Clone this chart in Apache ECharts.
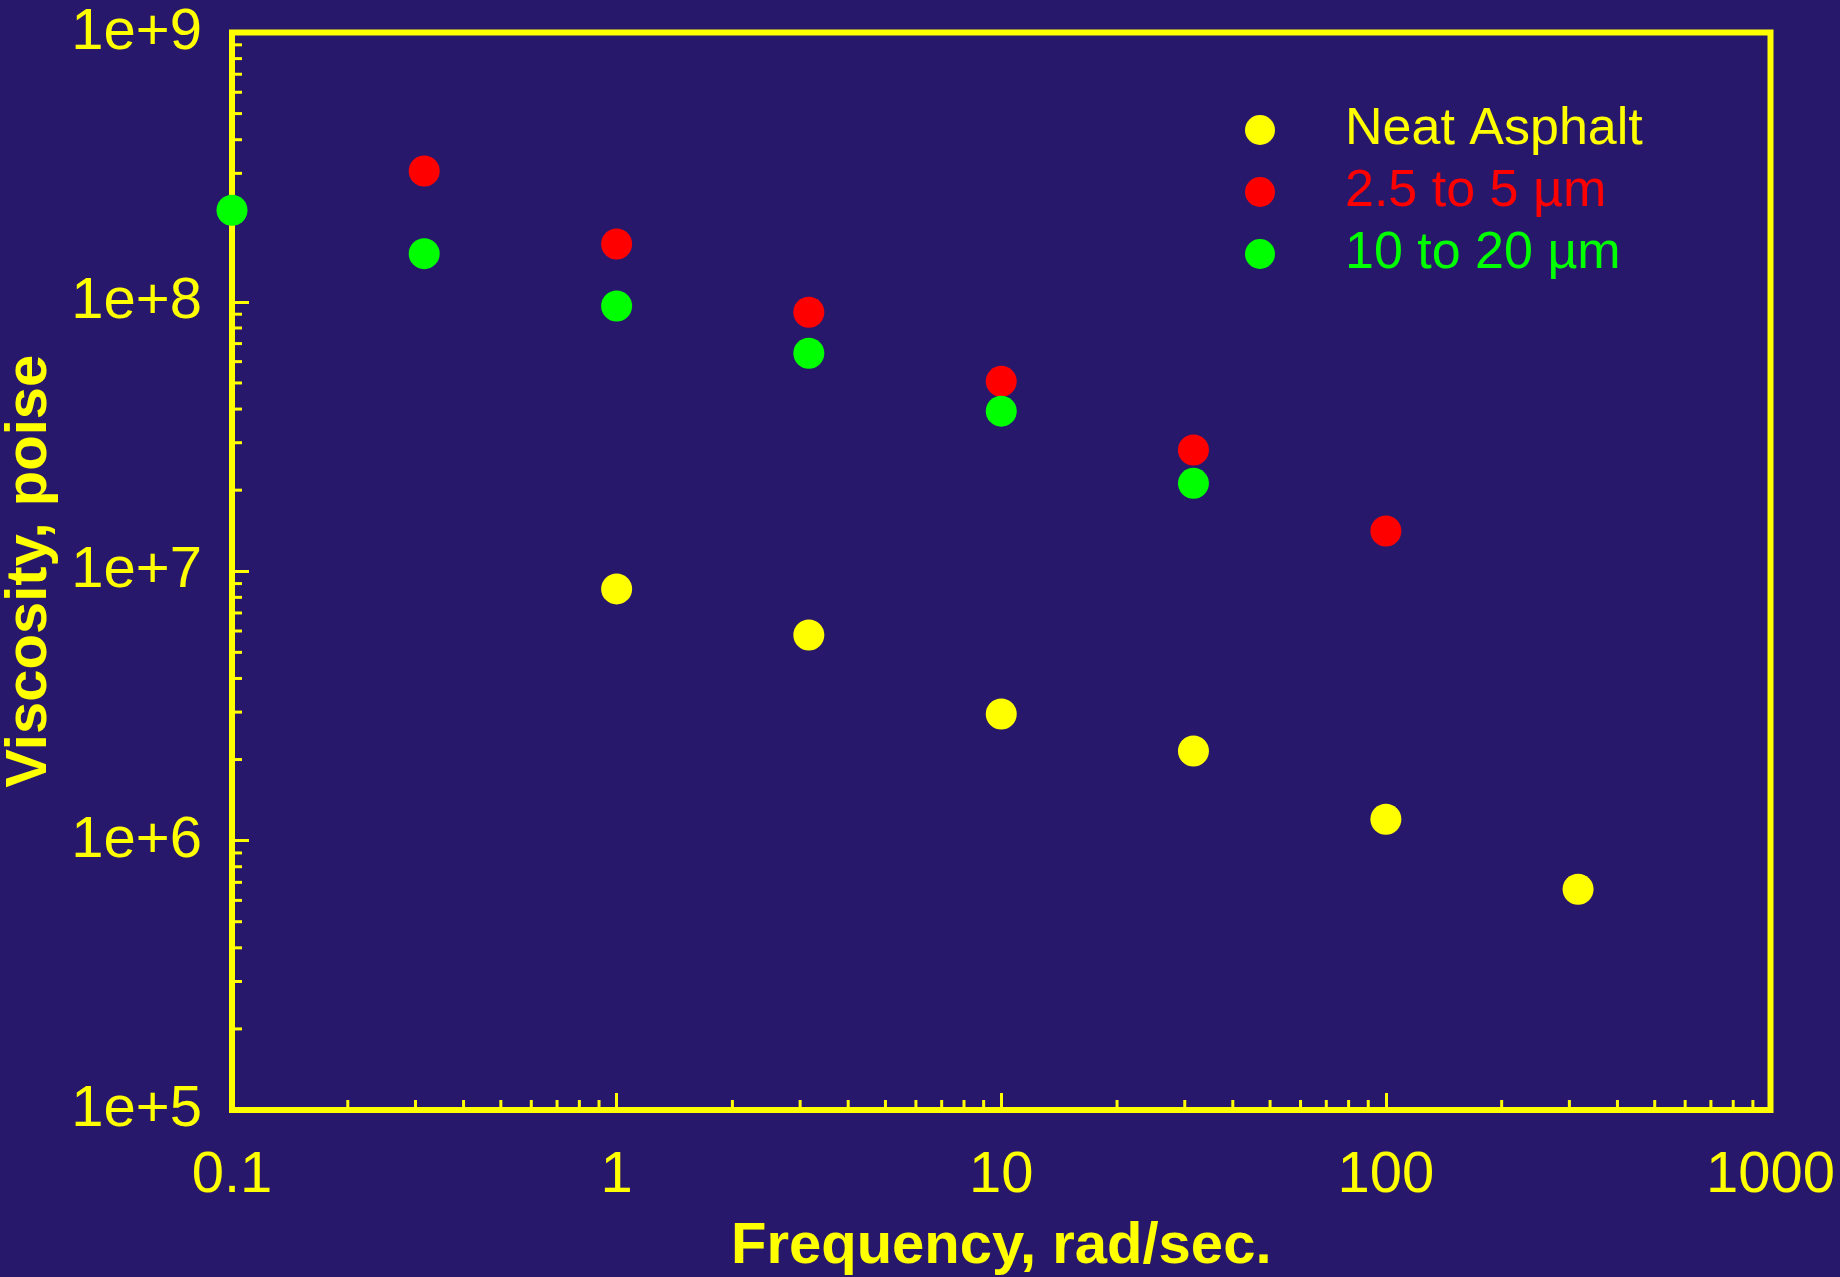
<!DOCTYPE html>
<html>
<head>
<meta charset="utf-8">
<title>Viscosity vs. Frequency</title>
<script src="https://cdn.jsdelivr.net/npm/echarts@6/dist/echarts.min.js"></script>
<style>
  html, body { margin: 0; padding: 0; background: #28186c; }
  #chart { width: 1840px; height: 1277px; }
</style>
</head>
<body>
<div id="chart"></div>
<script>
// Complex viscosity (poise) against angular frequency (rad/sec.)
const seriesNames = ['Neat Asphalt', '2.5 to 5 \u00b5m', '10 to 20 \u00b5m'];
const seriesColors = ['#ffff00', '#ff0000', '#00ff00'];

const neatFreq = [1, 3.16, 10, 31.6, 100, 316];
const neatVisc = [8.6e6, 5.8e6, 2.95e6, 2.15e6, 1.2e6, 6.6e5];

const fineFreq = [0.316, 1, 3.16, 10, 31.6, 100];
const fineVisc = [3.06e8, 1.64e8, 9.15e7, 5.07e7, 2.82e7, 1.41e7];

const coarseFreq = [0.1, 0.316, 1, 3.16, 10, 31.6];
const coarseVisc = [2.19e8, 1.51e8, 9.65e7, 6.45e7, 3.93e7, 2.12e7];

// Axis ranges and decade labels
const xMin = 0.1, xMax = 1000;
const yMin = 1e5, yMax = 1e9;
const xTickLabels = ['0.1', '1', '10', '100', '1000'];
const yTickLabels = ['1e+5', '1e+6', '1e+7', '1e+8', '1e+9'];

// Minor (2..9) tick multipliers within each decade
const minorSteps = [2, 3, 4, 5, 6, 7, 8, 9];
const xDecades = [0.1, 1, 10, 100];
const yDecades = [1e5, 1e6, 1e7, 1e8];

const YELLOW = '#ffff00';
const FONT = '"Liberation Sans", Arial, Helvetica, sans-serif';

function pairs(xs, ys) { return xs.map((x, i) => [x, ys[i]]); }

// [x, y, orientation] — orientation 0: tick on the x axis, 1: tick on the y axis
const minorTicks = [];
xDecades.forEach(d => minorSteps.forEach(m => minorTicks.push([d * m, yMin, 0])));
yDecades.forEach(d => minorSteps.forEach(m => minorTicks.push([xMin, d * m, 1])));

const MINOR_LEN = 10;

const chart = echarts.init(document.getElementById('chart'), null, { renderer: 'canvas' });

chart.setOption({
  backgroundColor: '#28186c',
  animation: false,
  textStyle: { fontFamily: FONT },
  grid: {
    left: 232, top: 32.5, right: 69.5, bottom: 167,
    outerBoundsMode: 'none',
    containLabel: false,
    show: true, borderColor: YELLOW, borderWidth: 6,
    backgroundColor: 'transparent'
  },
  legend: {
    orient: 'vertical',
    left: 1240, top: 99,
    itemWidth: 160, itemHeight: 30, itemGap: 10,
    icon: 'circle',
    selectedMode: false,
    textStyle: { fontSize: 52, lineHeight: 30, fontFamily: FONT },
    data: seriesNames.map((n, i) => ({ name: n, textStyle: { color: seriesColors[i] } }))
  },
  xAxis: {
    type: 'log', logBase: 10, min: xMin, max: xMax,
    name: 'Frequency, rad/sec.',
    nameLocation: 'middle', nameGap: 108,
    nameTextStyle: { color: YELLOW, fontSize: 58, fontWeight: 'bold', fontFamily: FONT },
    axisLine: { show: false },
    axisTick: { show: true, inside: true, length: 17, lineStyle: { color: YELLOW, width: 3 } },
    splitLine: { show: false },
    axisLabel: {
      color: YELLOW, fontSize: 58, margin: 37, fontFamily: FONT,
      formatter: v => xTickLabels[Math.round(Math.log10(v / xMin))]
    }
  },
  yAxis: {
    type: 'log', logBase: 10, min: yMin, max: yMax,
    name: 'Viscosity, poise',
    nameLocation: 'middle', nameGap: 173,
    nameTextStyle: { color: YELLOW, fontSize: 58, fontWeight: 'bold', fontFamily: FONT },
    axisLine: { show: false },
    axisTick: { show: true, inside: true, length: 17, lineStyle: { color: YELLOW, width: 3 } },
    splitLine: { show: false },
    axisLabel: {
      color: YELLOW, fontSize: 58, margin: 30, fontFamily: FONT,
      formatter: v => yTickLabels[Math.round(Math.log10(v / yMin))]
    }
  },
  series: [
    {
      type: 'custom',
      name: 'minor-ticks',
      silent: true,
      z: 1,
      encode: { x: 0, y: 1 },
      data: minorTicks,
      renderItem(params, api) {
        const p = api.coord([api.value(0), api.value(1)]);
        const vertical = api.value(2) === 0;
        return {
          type: 'line',
          shape: vertical
            ? { x1: p[0], y1: p[1], x2: p[0], y2: p[1] - MINOR_LEN }
            : { x1: p[0], y1: p[1], x2: p[0] + MINOR_LEN, y2: p[1] },
          style: { stroke: YELLOW, lineWidth: 3 }
        };
      }
    },
    {
      type: 'scatter', name: seriesNames[0], symbol: 'circle', symbolSize: 31, clip: false, z: 3,
      itemStyle: { color: seriesColors[0], opacity: 1 },
      data: pairs(neatFreq, neatVisc)
    },
    {
      type: 'scatter', name: seriesNames[1], symbol: 'circle', symbolSize: 31, clip: false, z: 3,
      itemStyle: { color: seriesColors[1], opacity: 1 },
      data: pairs(fineFreq, fineVisc)
    },
    {
      type: 'scatter', name: seriesNames[2], symbol: 'circle', symbolSize: 31, clip: false, z: 3,
      itemStyle: { color: seriesColors[2], opacity: 1 },
      data: pairs(coarseFreq, coarseVisc)
    }
  ]
});
</script>
</body>
</html>
